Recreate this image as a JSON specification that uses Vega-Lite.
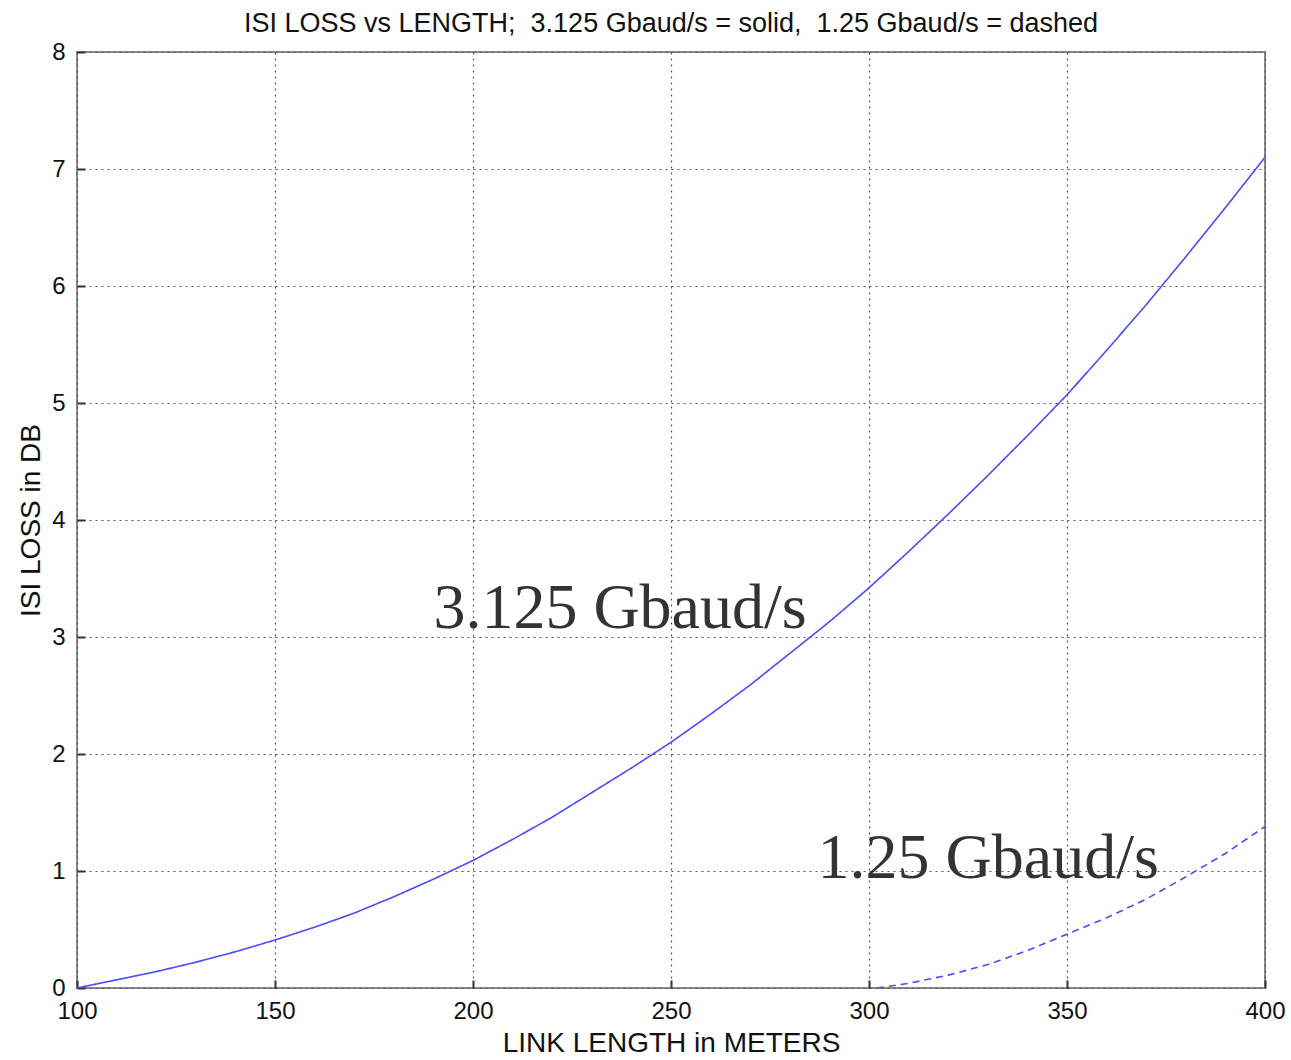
{
  "$schema": "https://vega.github.io/schema/vega-lite/v6.json",
  "width": 1188,
  "height": 936,
  "autosize": {"type": "none"},
  "padding": {"left": 77, "top": 52, "right": 26, "bottom": 72},
  "background": "white",
  "title": {
    "text": "ISI LOSS vs LENGTH;\u00a0 3.125 Gbaud/s = solid,\u00a0 1.25 Gbaud/s = dashed",
    "font": "Liberation Sans",
    "fontSize": 27,
    "fontWeight": "normal",
    "color": "#111",
    "offset": 2,
    "anchor": "middle"
  },
  "config": {
    "view": {"stroke": "#888", "strokeWidth": 2},
    "axis": {
      "labelFont": "Liberation Sans",
      "titleFont": "Liberation Sans",
      "labelFontSize": 24,
      "titleFontSize": 28,
      "titleFontWeight": "normal",
      "labelColor": "#111",
      "titleColor": "#111",
      "gridColor": "#555",
      "gridDash": [2, 4],
      "gridWidth": 1.2,
      "gridOpacity": 1,
      "domain": false,
      "tickColor": "#333",
      "tickWidth": 2,
      "tickSize": -8,
      "labelFlush": false,
      "format": "d"
    }
  },
  "datasets": {
    "curves": [
      {"length": 100, "loss": 0, "rate": "3.125 Gbaud/s"},
      {"length": 110, "loss": 0.07, "rate": "3.125 Gbaud/s"},
      {"length": 120, "loss": 0.14, "rate": "3.125 Gbaud/s"},
      {"length": 130, "loss": 0.22, "rate": "3.125 Gbaud/s"},
      {"length": 140, "loss": 0.31, "rate": "3.125 Gbaud/s"},
      {"length": 150, "loss": 0.41, "rate": "3.125 Gbaud/s"},
      {"length": 160, "loss": 0.52, "rate": "3.125 Gbaud/s"},
      {"length": 170, "loss": 0.64, "rate": "3.125 Gbaud/s"},
      {"length": 180, "loss": 0.78, "rate": "3.125 Gbaud/s"},
      {"length": 190, "loss": 0.93, "rate": "3.125 Gbaud/s"},
      {"length": 200, "loss": 1.09, "rate": "3.125 Gbaud/s"},
      {"length": 210, "loss": 1.27, "rate": "3.125 Gbaud/s"},
      {"length": 220, "loss": 1.46, "rate": "3.125 Gbaud/s"},
      {"length": 230, "loss": 1.67, "rate": "3.125 Gbaud/s"},
      {"length": 240, "loss": 1.88, "rate": "3.125 Gbaud/s"},
      {"length": 250, "loss": 2.1, "rate": "3.125 Gbaud/s"},
      {"length": 260, "loss": 2.34, "rate": "3.125 Gbaud/s"},
      {"length": 270, "loss": 2.59, "rate": "3.125 Gbaud/s"},
      {"length": 280, "loss": 2.86, "rate": "3.125 Gbaud/s"},
      {"length": 290, "loss": 3.13, "rate": "3.125 Gbaud/s"},
      {"length": 300, "loss": 3.42, "rate": "3.125 Gbaud/s"},
      {"length": 310, "loss": 3.73, "rate": "3.125 Gbaud/s"},
      {"length": 320, "loss": 4.05, "rate": "3.125 Gbaud/s"},
      {"length": 330, "loss": 4.38, "rate": "3.125 Gbaud/s"},
      {"length": 340, "loss": 4.72, "rate": "3.125 Gbaud/s"},
      {"length": 350, "loss": 5.07, "rate": "3.125 Gbaud/s"},
      {"length": 360, "loss": 5.45, "rate": "3.125 Gbaud/s"},
      {"length": 370, "loss": 5.84, "rate": "3.125 Gbaud/s"},
      {"length": 380, "loss": 6.25, "rate": "3.125 Gbaud/s"},
      {"length": 390, "loss": 6.67, "rate": "3.125 Gbaud/s"},
      {"length": 400, "loss": 7.1, "rate": "3.125 Gbaud/s"},
      {"length": 302, "loss": 0, "rate": "1.25 Gbaud/s"},
      {"length": 310, "loss": 0.04, "rate": "1.25 Gbaud/s"},
      {"length": 320, "loss": 0.11, "rate": "1.25 Gbaud/s"},
      {"length": 330, "loss": 0.2, "rate": "1.25 Gbaud/s"},
      {"length": 340, "loss": 0.32, "rate": "1.25 Gbaud/s"},
      {"length": 350, "loss": 0.46, "rate": "1.25 Gbaud/s"},
      {"length": 360, "loss": 0.6, "rate": "1.25 Gbaud/s"},
      {"length": 370, "loss": 0.76, "rate": "1.25 Gbaud/s"},
      {"length": 380, "loss": 0.95, "rate": "1.25 Gbaud/s"},
      {"length": 390, "loss": 1.15, "rate": "1.25 Gbaud/s"},
      {"length": 400, "loss": 1.38, "rate": "1.25 Gbaud/s"}
    ],
    "labels": [
      {"length": 190, "loss": 3.08, "text": "3.125 Gbaud/s"},
      {"length": 287, "loss": 0.94, "text": "1.25 Gbaud/s"}
    ]
  },
  "layer": [
    {
      "data": {"name": "curves"},
      "mark": {"type": "line", "color": "#4b4bff", "strokeWidth": 1.6, "clip": true},
      "encoding": {
        "x": {
          "field": "length", "type": "quantitative",
          "scale": {"domain": [100, 400], "nice": false, "zero": false},
          "axis": {"title": "LINK LENGTH in METERS", "values": [100, 150, 200, 250, 300, 350, 400], "labelPadding": 19, "titlePadding": 6, "grid": true}
        },
        "y": {
          "field": "loss", "type": "quantitative",
          "scale": {"domain": [0, 8], "nice": false},
          "axis": {"title": "ISI LOSS in DB", "values": [0, 1, 2, 3, 4, 5, 6, 7, 8], "labelPadding": 20, "titlePadding": 6, "grid": true}
        },
        "detail": {"field": "rate"},
        "strokeDash": {
          "field": "rate", "type": "nominal",
          "scale": {"domain": ["3.125 Gbaud/s", "1.25 Gbaud/s"], "range": [[1, 0], [7, 5]]},
          "legend": null
        }
      }
    },
    {
      "data": {"name": "labels"},
      "mark": {"type": "text", "font": "Liberation Serif", "fontSize": 64, "color": "#333", "align": "left", "baseline": "alphabetic"},
      "encoding": {
        "x": {"field": "length", "type": "quantitative"},
        "y": {"field": "loss", "type": "quantitative"},
        "text": {"field": "text"}
      }
    }
  ]
}
